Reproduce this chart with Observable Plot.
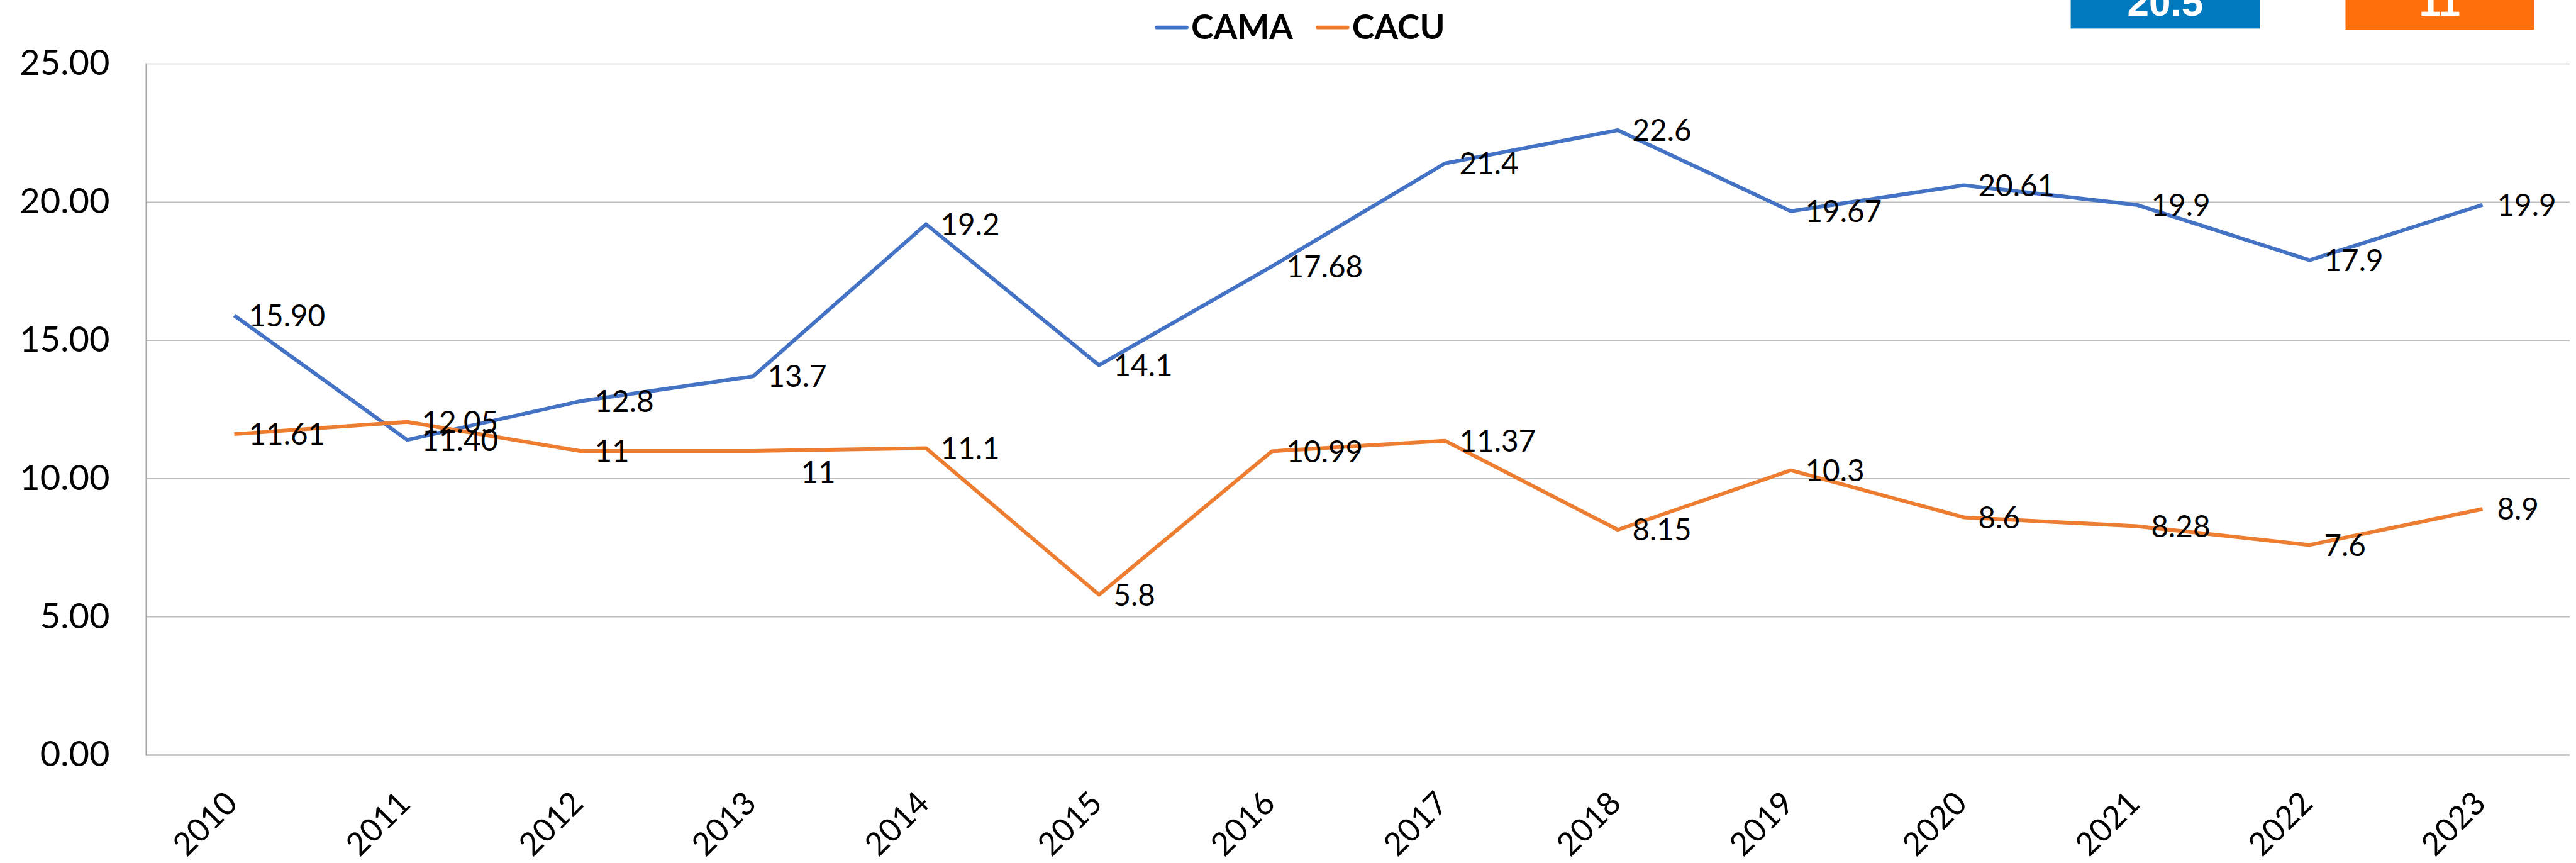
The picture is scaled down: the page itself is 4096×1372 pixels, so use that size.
<!DOCTYPE html>
<html>
<head>
<meta charset="utf-8">
<script src="https://cdn.jsdelivr.net/npm/d3@7"></script>
<script src="https://cdn.jsdelivr.net/npm/@observablehq/plot@0.6"></script>
<style>
  html, body { margin: 0; padding: 0; background: #fff; }
  #wrap { position: relative; width: 4096px; height: 1372px; overflow: hidden; background: #fff; }
  #chart { position: absolute; left: 0; top: 0; }
  #overlay { position: absolute; left: 0; top: 0; }
</style>
</head>
<body>
<div id="wrap">
  <div id="chart"></div>
  <svg id="overlay" width="4096" height="120"></svg>
</div>
<script>
// ---- data ----
const years = [2010, 2011, 2012, 2013, 2014, 2015, 2016, 2017, 2018, 2019, 2020, 2021, 2022, 2023];
const cama = [15.90, 11.40, 12.8, 13.7, 19.2, 14.1, 17.68, 21.4, 22.6, 19.67, 20.61, 19.9, 17.9, 19.9];
const cacu = [11.61, 12.05, 11, 11, 11.1, 5.8, 10.99, 11.37, 8.15, 10.3, 8.6, 8.28, 7.6, 8.9];
const camaLabels = ["15.90", "11.40", "12.8", "13.7", "19.2", "14.1", "17.68", "21.4", "22.6", "19.67", "20.61", "19.9", "17.9", "19.9"];
const cacuLabels = ["11.61", "12.05", "11", "11", "11.1", "5.8", "10.99", "11.37", "8.15", "10.3", "8.6", "8.28", "7.6", "8.9"];
const yTicks = [0, 5, 10, 15, 20, 25];
const seriesNames = ["CAMA", "CACU"];
const seriesColors = ["#4472C4", "#ED7D31"];
const kpiValues = ["20.5", "11"];
const kpiColors = ["#0179BF", "#FF6F0B"];

// ---- table ----
const rows = [];
years.forEach((yr, i) => {
  rows.push({year: String(yr), series: seriesNames[0], value: cama[i], label: camaLabels[i]});
});
years.forEach((yr, i) => {
  rows.push({year: String(yr), series: seriesNames[1], value: cacu[i], label: cacuLabels[i]});
});
const isShifted = d => d.series === "CACU" && d.year === "2013";

const FONT = "Lato, 'Open Sans', sans-serif";

const chart = Plot.plot({
  width: 4096,
  height: 1372,
  marginTop: 101,
  marginBottom: 172,
  marginLeft: 232,
  marginRight: 10,
  style: {fontFamily: FONT, background: "white", color: "#000"},
  x: {type: "point", domain: years.map(String), padding: 0.5, axis: null},
  y: {domain: [0, 25], axis: null},
  color: {domain: seriesNames, range: seriesColors},
  marks: [
    Plot.gridY(yTicks, {stroke: "#bdbdbd", strokeOpacity: 1, strokeWidth: 1.6}),
    Plot.frame({anchor: "left", stroke: "#a6a6a6", strokeWidth: 2}),
    Plot.ruleY([0], {stroke: "#a6a6a6", strokeWidth: 2}),
    Plot.axisY(yTicks, {
      tickFormat: d => d.toFixed(2), tickSize: 0, tickPadding: 58,
      fontSize: 56, fill: "#000", label: null, anchor: "left"
    }),
    Plot.text(years.map(String), {
      x: d => d, frameAnchor: "bottom", dy: 79.5, dx: 8, rotate: -45,
      textAnchor: "end", lineAnchor: "bottom", fontSize: 51, fill: "#000"
    }),
    Plot.line(rows, {x: "year", y: "value", stroke: "series", strokeWidth: 6, strokeLinejoin: "round", strokeLinecap: "butt"}),
    Plot.text(rows.filter(d => !isShifted(d)), {
      x: "year", y: "value", text: "label", dx: 23, dy: 2,
      textAnchor: "start", lineAnchor: "middle", fontSize: 47.6, fill: "#000"
    }),
    Plot.text(rows.filter(isShifted), {
      x: "year", y: "value", text: "label", dx: 76, dy: 36,
      textAnchor: "start", lineAnchor: "middle", fontSize: 47.6, fill: "#000"
    })
  ]
});
document.getElementById("chart").appendChild(chart);

// ---- legend + KPI boxes (overlay) ----
const svg = d3.select("#overlay");
let cx = 1836;
seriesNames.forEach((name, i) => {
  svg.append("line")
    .attr("x1", cx + 3).attr("x2", cx + 51).attr("y1", 43.6).attr("y2", 43.6)
    .attr("stroke", seriesColors[i]).attr("stroke-width", 5.8).attr("stroke-linecap", "round");
  const t = svg.append("text")
    .attr("x", cx + 58).attr("y", 61.5)
    .attr("font-family", FONT).attr("font-weight", 700).attr("font-size", 54)
    .attr("fill", "#000").text(name);
  cx = cx + 58 + t.node().getComputedTextLength() + 36;
});

const boxX = [3292.6, 3729.5];
const boxW = [300.7, 299.7];
const boxH = [45.4, 47];
kpiValues.forEach((v, i) => {
  svg.append("rect").attr("x", boxX[i]).attr("y", -2).attr("width", boxW[i]).attr("height", boxH[i] + 2)
    .attr("fill", kpiColors[i]);
  svg.append("text").attr("x", boxX[i] + boxW[i] / 2).attr("y", 25.3)
    .attr("text-anchor", "middle")
    .attr("font-family", "'Liberation Sans', Arial, sans-serif").attr("font-weight", 700)
    .attr("font-size", 62).attr("fill", "#fff").text(v);
});
</script>
</body>
</html>
